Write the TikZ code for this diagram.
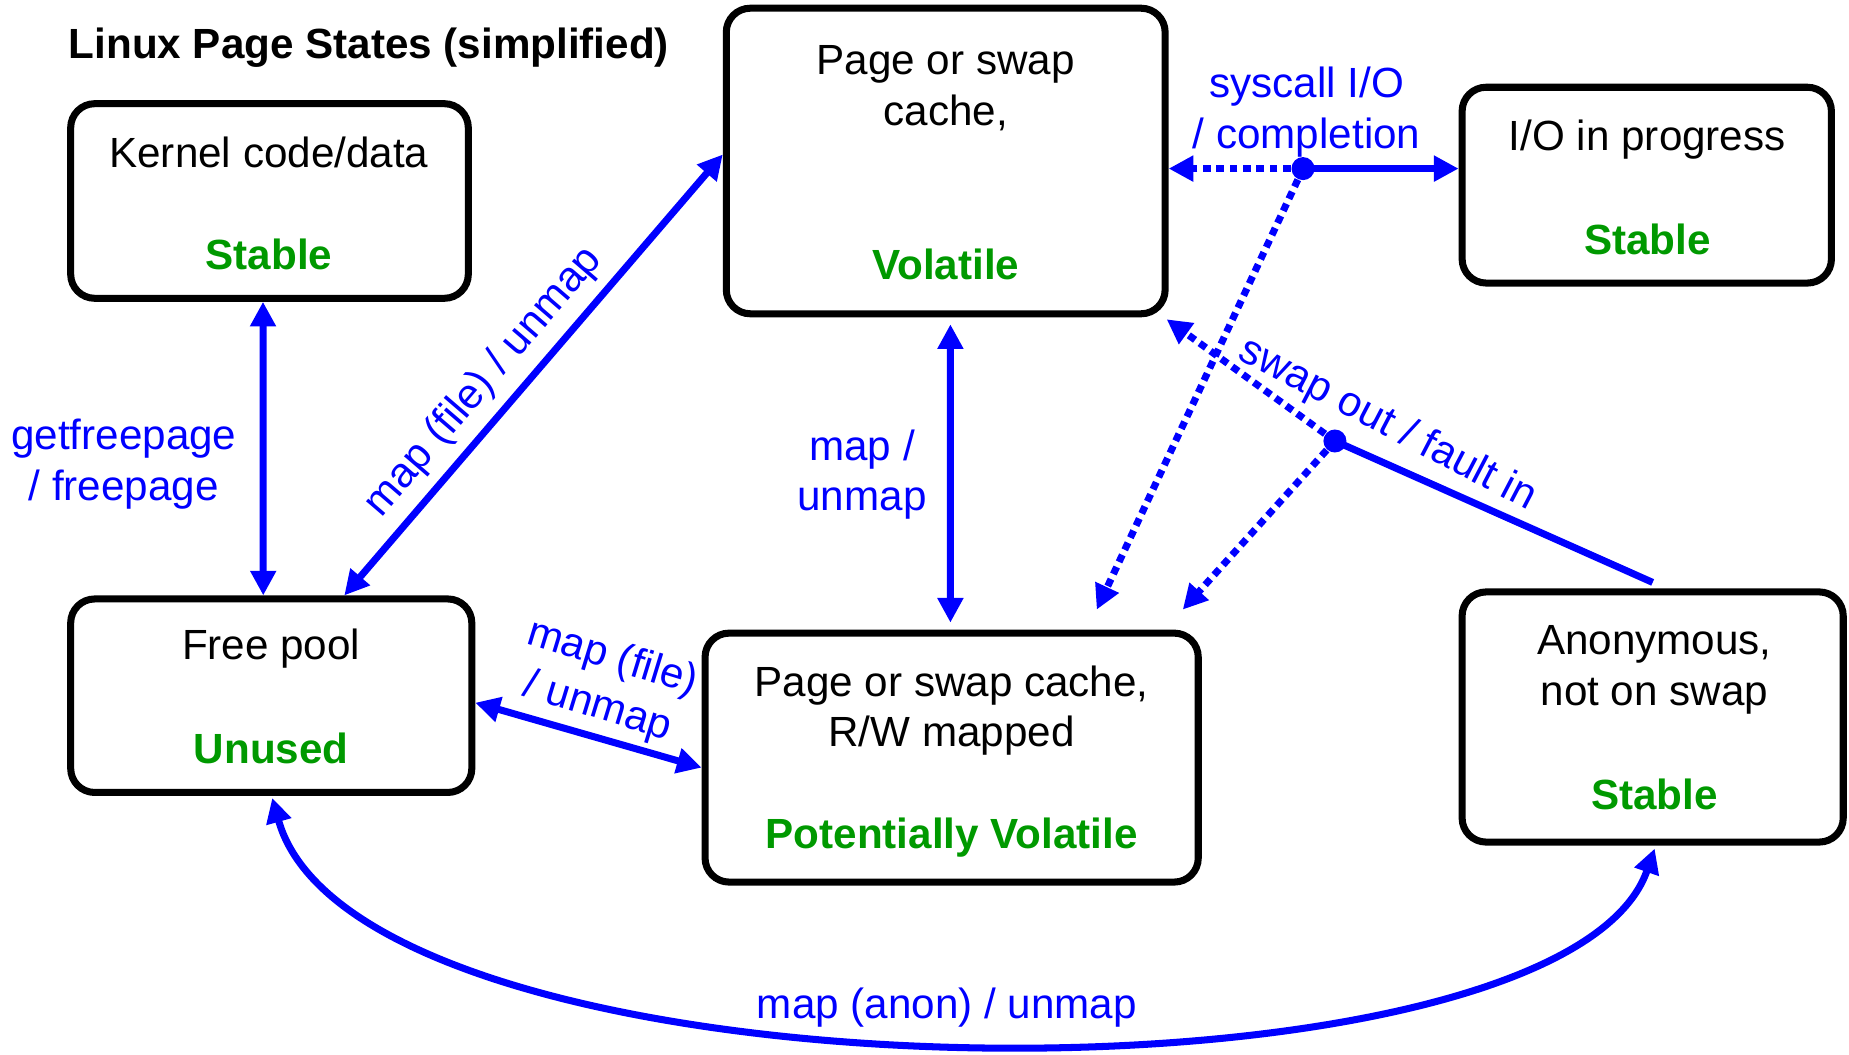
\documentclass[tikz,border=0pt]{standalone}
\usepackage{fontspec}
\setmainfont{Liberation Sans}
\usetikzlibrary{arrows.meta}
\definecolor{lblue}{RGB}{0,0,255}
\definecolor{lgreen}{RGB}{0,153,0}
\begin{document}
\begin{tikzpicture}[x=0.01cm,y=-0.01cm,
  state/.style={draw=black,line width=2pt,rounded corners=0.24cm,inner sep=0pt},
  txt/.style={font=\fontsize{12}{14.4}\selectfont,inner sep=0pt,align=center},
  stat/.style={inner sep=0pt,font=\fontsize{12}{14.4}\selectfont\bfseries,text=lgreen},
  lbl/.style={txt,text=lblue},
  arr/.style={draw=lblue,line width=2pt,{Triangle[length=7pt,width=7pt]}-{Triangle[length=7pt,width=7pt]}},
  solidarr/.style={draw=lblue,line width=2pt,-{Triangle[length=7pt,width=7pt]}},
  dotarr/.style={draw=lblue,line width=2pt,dash pattern=on 2.2pt off 1.6pt,-{Triangle[length=7pt,width=7pt]}},
  solidline/.style={draw=lblue,line width=2pt},
  junction/.style={circle,fill=lblue,inner sep=0pt,minimum size=0.23cm}
]
\useasboundingbox (0,0) rectangle (1849,1055);

% title
\node[anchor=west,inner sep=0pt,font=\fontsize{12}{14.4}\selectfont\bfseries] (title) at (68,47.5) {Linux Page States (simplified)};

% boxes
\node[state,minimum width=3.974cm,minimum height=1.945cm] (kernel) at (269.5,201) {};
\node[state,minimum width=4.386cm,minimum height=3.054cm] (top) at (945.7,161) {};
\node[state,minimum width=3.691cm,minimum height=1.957cm] (io) at (1646.75,185.15) {};
\node[state,minimum width=4.009cm,minimum height=1.934cm] (free) at (271.25,695.7) {};
\node[state,minimum width=4.929cm,minimum height=2.488cm] (rw) at (951.65,757.6) {};
\node[state,minimum width=3.809cm,minimum height=2.50cm] (anon) at (1652.65,717) {};

% box texts
\node[txt] (kernelname) at (268.9,152) {Kernel code/data};
\node[stat] (kernelstat) at (268.9,254.7) {Stable};
\node[txt] (topname) at (945.7,88) {Page or swap\\cache,};
\node[stat] (topstat) at (945.7,264.1) {Volatile};
\node[txt] (ioname) at (1647.3,139.5) {I/O in progress};
\node[stat] (iostat) at (1647.3,239.4) {Stable};
\node[txt] (freename) at (271.2,648.5) {Free pool};
\node[stat] (freestat) at (271.2,748.8) {Unused};
\node[txt] (rwname) at (951.6,710.6) {Page or swap cache,\\R/W mapped};
\node[stat] (rwstat) at (951.6,837.5) {Potentially Volatile};
\node[txt] (anonname) at (1654.4,670) {Anonymous,\\not on swap};
\node[stat] (anonstat) at (1654.4,794.8) {Stable};

% junctions
\node[junction] (dotio) at (1303,168.6) {};
\node[junction] (dotswap) at (1334.9,441) {};

% connectors
\draw[arr] ([xshift=-0.065cm]kernel.south) -- ([xshift=-0.08cm]free.north);
\draw[arr] ([xshift=0.73cm]free.north) -- ([yshift=0.065cm]top.west);
\draw[arr] ([xshift=0.047cm,yshift=-0.07cm]top.south) -- ([xshift=-0.0125cm,yshift=0.07cm]rw.north);
\draw[arr] ([yshift=-0.07cm]free.east) -- ([yshift=-0.10cm]rw.west);
\draw[arr] ([xshift=0.01cm,yshift=-0.02cm]free.south) .. controls (360,1110) and (1560,1120) .. ([xshift=0.02cm,yshift=-0.03cm]anon.south);

\draw[solidarr] (dotio.center) -- (io.west |- dotio.center);
\draw[dotarr] (dotio) -- (top.east |- dotio.center);
\draw[dotarr] (dotio) -- ([xshift=1.45cm,yshift=0.2cm]rw.north);

\draw[solidline] ([yshift=0.06cm]anon.north) -- (dotswap.center);
\draw[dotarr] (dotswap) -- ([xshift=-0.02cm,yshift=-0.02cm]top.south east);
\draw[dotarr] (dotswap) -- ([xshift=-0.19cm,yshift=0.2cm]rw.north east);

% connector labels
\node[lbl] (lblkernel) at (123.8,464) {getfreepage\\/ freepage};
\node[lbl,rotate=49.3] (lbldiag) at (484,382) {map (file) / unmap};
\node[lbl] (lblvert) at (862,474.5) {map /\\unmap};
\node[lbl,rotate=-17] (lblfree) at (605,683) {map (file)\\/ unmap};
\node[lbl] (lblanon) at (946.9,1008) {map (anon) / unmap};
\node[lbl] (lblio) at (1306.6,112) {syscall I/O\\/ completion};
\node[lbl,rotate=-27.5] (lblswap) at (1387.5,425) {swap out / fault in};
\end{tikzpicture}
\end{document}
